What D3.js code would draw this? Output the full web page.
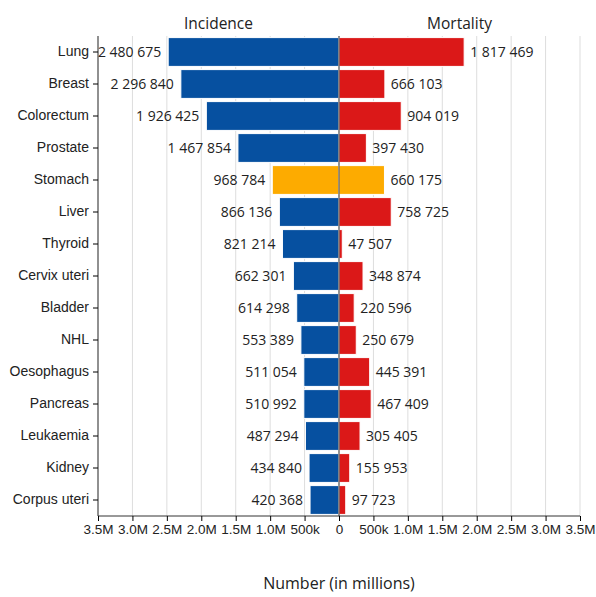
<!DOCTYPE html>
<html>
<head>
  <script src="https://d3js.org/d3.v7.min.js"></script>
  <style>
    body { margin: 0; background: white; }
    svg { display: block; font-family: "Open Sans", "Noto Sans", sans-serif; }
  </style>
</head>
<body>
  <svg width="596" height="597"></svg>
  <script>
    const sites = ["Lung", "Breast", "Colorectum", "Prostate", "Stomach", "Liver", "Thyroid",
      "Cervix uteri", "Bladder", "NHL", "Oesophagus", "Pancreas", "Leukaemia", "Kidney", "Corpus uteri"];
    const incidence = [2480675, 2296840, 1926425, 1467854, 968784, 866136, 821214,
      662301, 614298, 553389, 511054, 510992, 487294, 434840, 420368];
    const mortality = [1817469, 666103, 904019, 397430, 660175, 758725, 47507,
      348874, 220596, 250679, 445391, 467409, 305405, 155953, 97723];
    const xTicks = [-3.5e6, -3e6, -2.5e6, -2e6, -1.5e6, -1e6, -5e5, 0, 5e5, 1e6, 1.5e6, 2e6, 2.5e6, 3e6, 3.5e6];
    const highlight = "Stomach";

    const svg = d3.select("svg");
    const margin = { top: 36, right: 16, bottom: 81, left: 98 };
    const width = 596 - margin.left - margin.right,
          height = 597 - margin.top - margin.bottom;
    const g = svg.append("g").attr("transform", `translate(${margin.left},${margin.top})`);

    const x = d3.scaleLinear().domain([-3.5e6, 3.5e6]).range([0, width]);
    const y = d3.scaleBand().domain(sites).range([0, height]).paddingInner(0.1).paddingOuter(0.05);

    const num = d3.formatLocale({ decimal: ".", thousands: " ", grouping: [3], currency: ["", ""] }).format(",d");
    const tickFmt = v => {
      const a = Math.abs(v);
      if (a === 0) return "0";
      if (a < 1e6) return (a / 1000) + "k";
      return (a / 1e6).toFixed(1) + "M";
    };

    // grid
    g.selectAll(".grid").data(xTicks).enter().append("line")
      .attr("x1", d => x(d)).attr("x2", d => x(d))
      .attr("y1", 0).attr("y2", height)
      .attr("stroke", "#ddd").attr("stroke-width", 1);

    const rows = sites.map((s, i) => ({ site: s, inc: incidence[i], mort: mortality[i] }));

    g.selectAll(".inc").data(rows).enter().append("rect")
      .attr("x", d => x(-d.inc)).attr("width", d => x(0) - x(-d.inc))
      .attr("y", d => y(d.site)).attr("height", y.bandwidth())
      .attr("fill", d => d.site === highlight ? "#fdab00" : "#0650a0")
      .attr("stroke", "white").attr("stroke-width", 1);

    g.selectAll(".mort").data(rows).enter().append("rect")
      .attr("x", x(0)).attr("width", d => x(d.mort) - x(0))
      .attr("y", d => y(d.site)).attr("height", y.bandwidth())
      .attr("fill", d => d.site === highlight ? "#fdab00" : "#db1818")
      .attr("stroke", "white").attr("stroke-width", 1);

    g.append("line")
      .attr("x1", x(0)).attr("x2", x(0)).attr("y1", 0).attr("y2", height)
      .attr("stroke", "#333").attr("stroke-width", 1);

    g.selectAll(".incl").data(rows).enter().append("text")
      .attr("x", d => x(-d.inc) - 7).attr("y", d => y(d.site) + y.bandwidth() / 2)
      .attr("dy", "0.35em").attr("text-anchor", "end")
      .attr("font-size", 14).attr("fill", "#222")
      .text(d => num(d.inc));

    g.selectAll(".mortl").data(rows).enter().append("text")
      .attr("x", d => x(d.mort) + 6).attr("y", d => y(d.site) + y.bandwidth() / 2)
      .attr("dy", "0.35em").attr("text-anchor", "start")
      .attr("font-size", 14).attr("fill", "#222")
      .text(d => num(d.mort));

    const yAxis = g.append("g").call(d3.axisLeft(y).tickSize(5).tickPadding(4));
    yAxis.select(".domain").attr("stroke", "#333").attr("d", `M0,0V${height}`);
    yAxis.selectAll("text").attr("font-size", 14).attr("fill", "#222").attr("font-family", null);

    const xAxis = g.append("g").attr("transform", `translate(0,${height})`)
      .call(d3.axisBottom(x).tickValues(xTicks).tickFormat(tickFmt).tickSize(5).tickPadding(3));
    xAxis.select(".domain").attr("stroke", "#333").attr("d", `M0,0H${width}`);
    xAxis.selectAll("text").attr("font-size", 13.5).attr("fill", "#222").attr("font-family", null);

    svg.append("text").attr("x", margin.left + x(-1.75e6)).attr("y", 29)
      .attr("text-anchor", "middle").attr("font-size", 15.5).attr("fill", "#222").text("Incidence");
    svg.append("text").attr("x", margin.left + x(1.75e6)).attr("y", 29)
      .attr("text-anchor", "middle").attr("font-size", 15.5).attr("fill", "#222").text("Mortality");
    svg.append("text").attr("x", margin.left + x(0)).attr("y", 589)
      .attr("text-anchor", "middle").attr("font-size", 16).attr("fill", "#222").text("Number (in millions)");
  </script>
</body>
</html>
